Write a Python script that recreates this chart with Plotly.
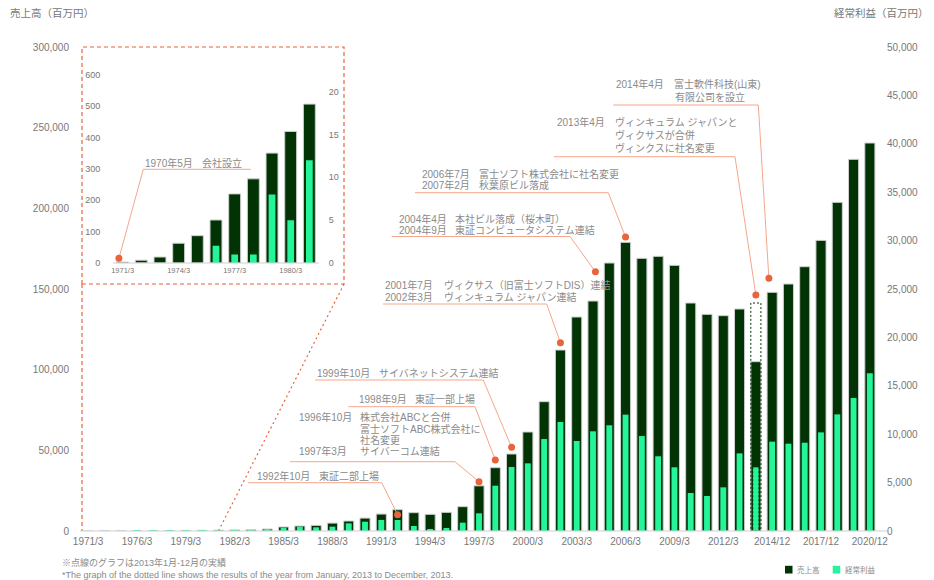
import plotly.graph_objects as go

# ---------------- data ----------------
categories = ["1971/3", "1974/3", "1975/3", "1976/3", "1977/3", "1978/3", "1979/3", "1980/3",
              "1981/3", "1982/3", "1983/3", "1984/3", "1985/3", "1986/3", "1987/3", "1988/3",
              "1989/3", "1990/3", "1991/3", "1992/3", "1993/3", "1994/3", "1995/3", "1996/3",
              "1997/3", "1998/3", "1999/3", "2000/3", "2001/3", "2002/3", "2003/3", "2004/3",
              "2005/3", "2006/3", "2007/3", "2008/3", "2009/3", "2010/3", "2011/3", "2012/3",
              "2013/3", "2013/12", "2014/12", "2015/12", "2016/12", "2017/12", "2018/12",
              "2019/12", "2020/12"]
sales = [3, 63, 87, 137, 220, 268, 350, 419,
         506, 650, 900, 1250, 2500, 3100, 3500, 4900,
         6200, 8000, 10500, 13200, 11360, 10330, 11570, 15080,
         28000, 39240, 47720, 61360, 80160, 112180, 132640, 142550,
         166100, 178920, 169000, 170250, 164660, 141310, 134290, 133460,
         137600, 104950, 147930, 153090, 163830, 180150, 203700,
         230360, 240480]
profit = [0, 0, 0, 2, 1, 1, 8, 5,
          12, 30, 100, 130, 340, 450, 380, 450,
          790, 960, 1140, 1140, 520, 210, 310, 860,
          1830, 4680, 6610, 6990, 9500, 11260, 9300, 10300,
          10920, 12020, 9810, 7720, 6580, 3925, 3615, 4510,
          8020, 6580, 9230, 9020, 9120, 10190, 12050,
          13740, 16290]
tick_labels = ["1971/3", "1976/3", "1979/3", "1982/3", "1985/3", "1988/3", "1991/3", "1994/3",
               "1997/3", "2000/3", "2003/3", "2006/3", "2009/3", "2012/3", "2014/12", "2017/12",
               "2020/12"]
left_ticks = [0, 50000, 100000, 150000, 200000, 250000, 300000]
right_ticks = [0, 5000, 10000, 15000, 20000, 25000, 30000, 35000, 40000, 45000, 50000]

# calendar-year 2013 (dotted bar)
dotted_category = "2013/12"
dotted_sales = 141310
dotted_profit = 7610

# inset (early years)
inset_categories = ["1971/3", "1972/3", "1973/3", "1974/3", "1975/3", "1976/3", "1977/3",
                    "1978/3", "1979/3", "1980/3", "1981/3"]
inset_sales = [3, 9, 19, 63, 87, 137, 220, 268, 350, 419, 506]
inset_profit = [0, 0, 0, 0, 0, 2, 1, 1, 8, 5, 12]
inset_tick_labels = ["1971/3", "1974/3", "1977/3", "1980/3"]
inset_left_ticks = [0, 100, 200, 300, 400, 500, 600]
inset_right_ticks = [0, 5, 10, 15, 20]

# event markers: (category, sales-axis height of the dot, small x shift)
event_categories = ["1992/3", "1997/3", "1998/3", "1999/3", "2002/3", "2004/3", "2006/3",
                    "2013/12", "2014/12"]
event_dot_values = [10100, 30560, 44000, 51880, 116700, 160700, 182200, 146270, 156620]
event_dot_shift = [0, 0, 0, 0, 0, 0.15, 0, 0, -0.2]

# ---------------- style / layout ----------------
DARK = "#023305"
LIGHT = "#24f59b"
ORANGE = "#e8643c"
LEAD = "#f5a78c"
TXT = "#8a8a8a"
TICK = "#777777"
FONT = "Liberation Sans, Arial, Noto Sans CJK JP, sans-serif"

W, H = 934, 580
ML, MR, MT, MB = 80, 56, 47, 49
PW, PH = W - ML - MR, H - MT - MB


def PX(x):
    return (x - ML) / PW


def PY(y):
    return (H - MB - y) / PH


# inset placement (pixels)
IX0, IX1, IY0, IY1 = 113.3, 318.7, 263.0, 74.6
inset_dom_x = [PX(IX0), PX(IX1)]
inset_dom_y = [PY(IY0), PY(IY1)]
INSET_RIGHT_MAX = 600 * (263.0 - 91.6) / (263.0 - 74.6) ** 1 * 20 / 600 * (263.0 - 74.6) / (263.0 - 91.6) * (263.0 - 74.6) / (263.0 - 91.6)

fig = go.Figure()

fig.add_trace(go.Bar(x=categories, y=sales, xaxis="x", yaxis="y", width=0.62,
                     marker=dict(color=DARK, line=dict(color="#cfcfcf", width=1)),
                     name="売上高"))
fig.add_trace(go.Bar(x=categories, y=profit, xaxis="x", yaxis="y2", width=0.36,
                     marker=dict(color=LIGHT, line=dict(width=0)), name="経常利益"))

fig.add_trace(go.Bar(x=inset_categories, y=inset_sales, xaxis="x2", yaxis="y3", width=0.64,
                     marker=dict(color=DARK, line=dict(color="#cfcfcf", width=1)),
                     name="売上高"))
fig.add_trace(go.Bar(x=inset_categories, y=inset_profit, xaxis="x2", yaxis="y4", width=0.36,
                     marker=dict(color=LIGHT, line=dict(width=0)), name="経常利益"))

n = len(categories)
shapes = []
annotations = []

# dotted 2013 calendar-year outlines
di = categories.index(dotted_category)
shapes.append(dict(type="rect", xref="x", yref="y", x0=di - 0.31, x1=di + 0.31, y0=0,
                   y1=dotted_sales, line=dict(color=DARK, width=1, dash="2px,2px"),
                   fillcolor="rgba(0,0,0,0)", layer="above"))
shapes.append(dict(type="rect", xref="x", yref="y2", x0=di - 0.19, x1=di + 0.19, y0=0,
                   y1=dotted_profit, line=dict(color=DARK, width=1, dash="2px,2px"),
                   fillcolor="rgba(0,0,0,0)", layer="above"))

# inset frame + connectors
shapes.append(dict(type="rect", xref="paper", yref="paper", x0=PX(82), x1=PX(344),
                   y0=PY(284), y1=PY(47), line=dict(color=ORANGE, width=1.2, dash="4px,3px"),
                   fillcolor="rgba(0,0,0,0)"))
shapes.append(dict(type="line", xref="paper", yref="paper", x0=PX(82), x1=PX(82),
                   y0=PY(284), y1=0, line=dict(color=ORANGE, width=1.2, dash="4px,3px")))
conn_idx = categories.index("1981/3")
shapes.append(dict(type="line", xref="paper", yref="paper", x0=PX(344), y0=PY(284),
                   x1=(conn_idx + 0.5) / n, y1=0,
                   line=dict(color=ORANGE, width=1.2, dash="2px,3px")))

# baseline extension
shapes.append(dict(type="line", xref="paper", yref="paper", x0=PX(80), x1=PX(887), y0=0, y1=0,
                   line=dict(color="#d0d0d0", width=1)))
shapes.append(dict(type="line", xref="paper", yref="paper", x0=PX(113), x1=PX(319),
                   y0=inset_dom_y[0], y1=inset_dom_y[0], line=dict(color="#d0d0d0", width=1)))


def txt(x, y, s, size=10, color=TXT, anchor="left"):
    annotations.append(dict(xref="paper", yref="paper", x=PX(x), y=PY(y), text=s,
                            showarrow=False, xanchor=anchor, yanchor="middle",
                            font=dict(size=size, color=color, family=FONT)))


def dot(xref, yref, xa, ya):
    shapes.append(dict(type="circle", xref=xref, yref=yref, xsizemode="pixel",
                       ysizemode="pixel", xanchor=xa, yanchor=ya, x0=-3.5, x1=3.5,
                       y0=-3.5, y1=3.5, fillcolor=ORANGE, line=dict(width=0), layer="above"))


def leader(x_from, x_to, y_line, dxp, dyp):
    shapes.append(dict(type="path", xref="paper", yref="paper",
                       path=f"M {PX(x_from)},{PY(y_line)} L {PX(x_to)},{PY(y_line)} L {dxp},{dyp}",
                       line=dict(color=LEAD, width=1), layer="above"))


# event text blocks: (lines [(x, y, text)], underline (x0, x1, y))
event_blocks = [
    ([(255, 476, "1992年10月"), (316.7, 476, "東証二部上場")], (248, 381.7, 482.7)),
    ([(296.7, 416.7, "1996年10月"), (358.3, 416.7, "株式会社ABCと合併"),
      (358.3, 428.7, "富士ソフトABC株式会社に"), (358.3, 440, "社名変更"),
      (296.7, 451.3, "1997年3月"), (358.3, 451.3, "サイバーコム連結")], (290, 455, 461.7)),
    ([(356.7, 399.3, "1998年9月"), (413.3, 399.3, "東証一部上場")], (348.3, 475, 406.7)),
    ([(315, 373.3, "1999年10月"), (376.7, 373.3, "サイバネットシステム連結")], (315, 483.3, 380)),
    ([(383.3, 285, "2001年7月"), (441.7, 285, "ヴィクサス（旧富士ソフトDIS）連結"),
      (383.3, 296.5, "2002年3月"), (441.7, 296.5, "ヴィンキュラム ジャパン連結")], (383, 546.7, 304)),
    ([(396.7, 219.3, "2004年4月"), (452.7, 219.3, "本社ビル落成（桜木町）"),
      (396.7, 230.3, "2004年9月"), (452.7, 230.3, "東証コンピュータシステム連結")], (391.7, 570, 236.5)),
    ([(420, 174, "2006年7月"), (476.7, 174, "富士ソフト株式会社に社名変更"),
      (420, 185.3, "2007年2月"), (476.7, 185.3, "秋葉原ビル落成")], (415, 608.3, 192.7)),
    ([(555, 121.7, "2013年4月"), (612.7, 121.7, "ヴィンキュラム ジャパンと"),
      (612.7, 135, "ヴィクサスが合併"), (612.7, 148.3, "ヴィンクスに社名変更")], (554, 735, 156.7)),
    ([(614, 84, "2014年4月"), (671.7, 84, "富士軟件科技(山東)"),
      (672.7, 96.7, "有限公司を設立")], (613.3, 758.3, 105)),
]

for (lines, (ux0, ux1, uy)), cat, val, sh in zip(event_blocks, event_categories,
                                               event_dot_values, event_dot_shift):
    for (x, y, s) in lines:
        txt(x, y, s)
    idx = categories.index(cat) + sh
    leader(ux0, ux1, uy, (idx + 0.5) / n, val / 300000)
    dot("x", "y", idx, val)

# inset event (company founded)
txt(143.3, 163.3, "1970年5月")
txt(200, 163.3, "会社設立")
inset_dot_idx = -0.2
inset_dot_val = 15
ipx = inset_dom_x[0] + (inset_dot_idx + 0.5) / len(inset_categories) * (inset_dom_x[1] - inset_dom_x[0])
ipy = inset_dom_y[0] + inset_dot_val / 600 * (inset_dom_y[1] - inset_dom_y[0])
shapes.append(dict(type="path", xref="paper", yref="paper",
                   path=f"M {PX(250.7)},{PY(169.3)} L {PX(143.3)},{PY(169.3)} L {ipx},{ipy}",
                   line=dict(color=LEAD, width=1), layer="above"))
dot("x2", "y3", inset_dot_idx, inset_dot_val)

# axis titles
txt(8, 12.7, "売上高（百万円）", size=10.5, color=TICK)
txt(931, 12.7, "経常利益（百万円）", size=10.5, color=TICK, anchor="right")

# footnotes
txt(60, 562, "※点線のグラフは2013年1月-12月の実績", size=9, color=TXT)
txt(60, 574.5, "*The graph of the dotted line shows the results of the year from January, 2013 to December, 2013.",
    size=9, color=TXT)

# manual legend
shapes.append(dict(type="rect", xref="paper", yref="paper", x0=PX(785), x1=PX(792.5),
                   y0=PY(573.5), y1=PY(565.8), fillcolor=DARK, line=dict(width=0)))
txt(795, 569.8, "売上高", size=7.5, color=TXT)
shapes.append(dict(type="rect", xref="paper", yref="paper", x0=PX(832.7), x1=PX(840.2),
                   y0=PY(573.5), y1=PY(565.8), fillcolor=LIGHT, line=dict(width=0)))
txt(842.7, 569.8, "経常利益", size=7.5, color=TXT)

fig.update_layout(
    width=W, height=H,
    margin=dict(l=ML, r=MR, t=MT, b=MB),
    paper_bgcolor="white", plot_bgcolor="rgba(0,0,0,0)",
    showlegend=False, barmode="overlay",
    font=dict(family=FONT, size=10, color=TICK),
    shapes=shapes, annotations=annotations,
    xaxis=dict(type="category", categoryorder="array", categoryarray=categories,
               range=[-0.5, n - 0.5], tickmode="array", tickvals=tick_labels, ticktext=tick_labels,
               tickfont=dict(size=10, color=TICK), showline=False, showgrid=False,
               zeroline=False, ticks="", ticklabelstandoff=3, domain=[0, 1], anchor="y"),
    yaxis=dict(range=[0, 300000], tickmode="array", tickvals=left_ticks, tickformat=",",
               tickfont=dict(size=10, color=TICK), showgrid=False, zeroline=False,
               showline=False, ticks="", ticklabelstandoff=10, anchor="x"),
    yaxis2=dict(range=[0, 50000], tickmode="array", tickvals=right_ticks, tickformat=",",
                tickfont=dict(size=10, color=TICK), showgrid=False, zeroline=False,
                showline=False, ticks="", ticklabelstandoff=8, overlaying="y", side="right",
                anchor="x"),
    xaxis2=dict(type="category", categoryorder="array", categoryarray=inset_categories,
                range=[-0.5, len(inset_categories) - 0.5], domain=inset_dom_x, anchor="y3",
                tickmode="array", tickvals=inset_tick_labels, ticktext=inset_tick_labels,
                tickfont=dict(size=7.5, color=TICK), showgrid=False, zeroline=False,
                showline=False, ticks="", ticklabelstandoff=1),
    yaxis3=dict(domain=inset_dom_y, anchor="x2", range=[0, 600], tickmode="array",
                tickvals=inset_left_ticks, tickfont=dict(size=9, color=TICK), showgrid=False,
                zeroline=False, showline=False, ticks="", ticklabelstandoff=12),
    yaxis4=dict(overlaying="y3", side="right", anchor="x2", range=[0, 20 * 188.4 / 171.4],
                tickmode="array", tickvals=inset_right_ticks, tickfont=dict(size=9, color=TICK),
                showgrid=False, zeroline=False, showline=False, ticks="", ticklabelstandoff=9),
)

fig.write_html("out.html")
